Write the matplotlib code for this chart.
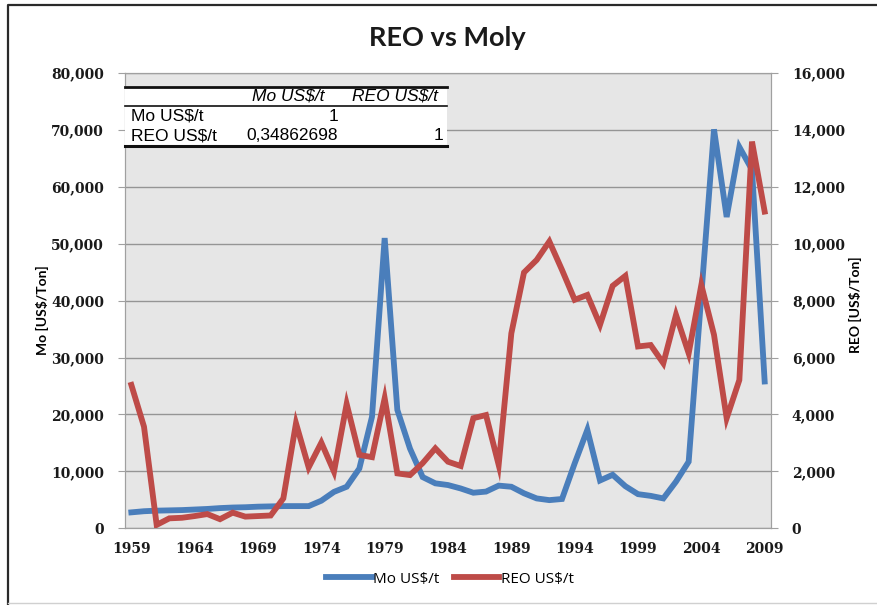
import matplotlib
matplotlib.use("Agg")
import matplotlib.pyplot as plt
import numpy as np
from matplotlib.lines import Line2D
from matplotlib.patches import Rectangle
from matplotlib.ticker import FuncFormatter, MultipleLocator

years = np.arange(1959, 2010)
mo = [2800, 3000, 3100, 3150, 3200, 3300, 3400, 3550, 3650, 3700,
      3800, 3850, 3900, 3900, 3900, 4850, 6400, 7300, 10500, 19600,
      51000, 20800, 14000, 9000, 7900, 7600, 7000, 6250, 6450, 7500,
      7300, 6150, 5250, 4950, 5150, 11400, 17300, 8400, 9400, 7400,
      6000, 5700, 5250, 8200, 11700, 41000, 70100, 54700, 67000, 63000,
      25800]
reo = [5040, 3570, 120, 350, 370, 430, 500, 320, 550, 410,
       430, 450, 1050, 3690, 2140, 3010, 1990, 4370, 2580, 2500,
       4570, 1930, 1870, 2290, 2810, 2340, 2190, 3870, 3980, 2230,
       6850, 8990, 9430, 10080, 9080, 8030, 8200, 7150, 8520, 8870,
       6390, 6440, 5800, 7500, 6150, 8550, 6800, 3870, 5210, 13590,
       11130]
year_ticks = [1959, 1964, 1969, 1974, 1979, 1984, 1989, 1994, 1999, 2004, 2009]

table_cols = ["Mo US$/t", "REO US$/t"]
table_rows = ["Mo US$/t", "REO US$/t"]
table_cells = [["1", ""], ["0,34862698", "1"]]

W, H = 878, 605
fig = plt.figure(figsize=(W / 100, H / 100), dpi=100)

def fx(x):
    return x / W

def fy(y):
    return 1 - y / H

ax = fig.add_axes([fx(125), fy(528.3), fx(771) - fx(125), fy(73) - fy(528.3)])
ax2 = ax.twinx()

blue = "#4a7ebb"
red = "#be4b48"
ax.plot(years, mo, color=blue, lw=4.2, solid_joinstyle="miter", zorder=3)
ax2.plot(years, reo, color=red, lw=4.2, solid_joinstyle="miter", zorder=3)
ax.set_facecolor("#e6e6e6")
ax.set_xlim(1958.5, 2009.5)
ax.set_ylim(0, 80000)
ax2.set_ylim(0, 16000)
ax.yaxis.set_major_locator(MultipleLocator(10000))
ax2.yaxis.set_major_locator(MultipleLocator(2000))
ax.set_xticks(year_ticks)
ax.grid(axis="y", color="#959595", lw=1)
ax.set_axisbelow(True)

fmt = FuncFormatter(lambda v, p: f"{v:,.0f}")
ax.yaxis.set_major_formatter(fmt)
ax2.yaxis.set_major_formatter(fmt)

tick_font = dict(family="DejaVu Serif", weight="bold", size=10)
for a in (ax, ax2):
    for s in a.spines.values():
        s.set_color("#a0a0a0")
    a.tick_params(axis="y", length=5, color="#a0a0a0", pad=10)
    for lab in a.get_yticklabels():
        lab.set_fontproperties(tick_font)
        lab.set_color("#1a1a1a")
ax.tick_params(axis="x", length=0, pad=10)
for lab in ax.get_xticklabels():
    lab.set_fontproperties(tick_font)
    lab.set_color("#1a1a1a")

fig.text(fx(447), fy(38), "REO vs Moly", ha="center", va="center",
         family="Lato", weight="bold", fontsize=19.5, color="#1a1a1a")
fig.text(fx(42), fy(310), "Mo [US$/Ton]", ha="center", va="center", rotation=90,
         family="Lato", weight="bold", fontsize=10)
fig.text(fx(855), fy(305), "REO [US$/Ton]", ha="center", va="center", rotation=90,
         family="Lato", weight="bold", fontsize=10)

# correlation table pasted on the chart
fig.add_artist(Rectangle((fx(125), fy(147)), fx(447) - fx(125), fy(86) - fy(147),
                         transform=fig.transFigure, facecolor="white",
                         edgecolor="none", zorder=4))
for y, lw in [(86.5, 2), (105.5, 1.2), (146, 2.2)]:
    fig.add_artist(Line2D([fx(125), fx(447)], [fy(y), fy(y)], transform=fig.transFigure,
                          color="#111111", lw=lw, zorder=5))
tfont = dict(family="Liberation Sans", fontsize=12.5, zorder=6, va="center")
fig.text(fx(324), fy(96), table_cols[0], ha="right", style="italic", **tfont)
fig.text(fx(438), fy(96), table_cols[1], ha="right", style="italic", **tfont)
for i, (name, row) in enumerate(zip(table_rows, table_cells)):
    yy = fy(116.5 + 19.5 * i)
    fig.text(fx(131), yy, name, ha="left", **tfont)
    fig.text(fx(338), yy, row[0], ha="right", **tfont)
    fig.text(fx(443), yy, row[1], ha="right", **tfont)

handles = [Line2D([], [], color=blue, lw=4.2), Line2D([], [], color=red, lw=4.2)]
fig.legend(handles, ["Mo US$/t", "REO US$/t"], loc="center", bbox_to_anchor=(fx(450), fy(579)),
           ncol=2, frameon=False, handlelength=3, handletextpad=0.1, columnspacing=0.9,
           prop=dict(family="Open Sans", size=11))

# outer frame of the pasted chart
fig.add_artist(Line2D([fx(8), fx(8), fx(878)], [0, fy(5), fy(5)], transform=fig.transFigure,
                      color="#2a2a2a", lw=1.6))
fig.add_artist(Line2D([fx(8), fx(878)], [fy(603), fy(603)], transform=fig.transFigure,
                      color="#d0d0d0", lw=1))

fig.savefig("out.png", dpi=100)
